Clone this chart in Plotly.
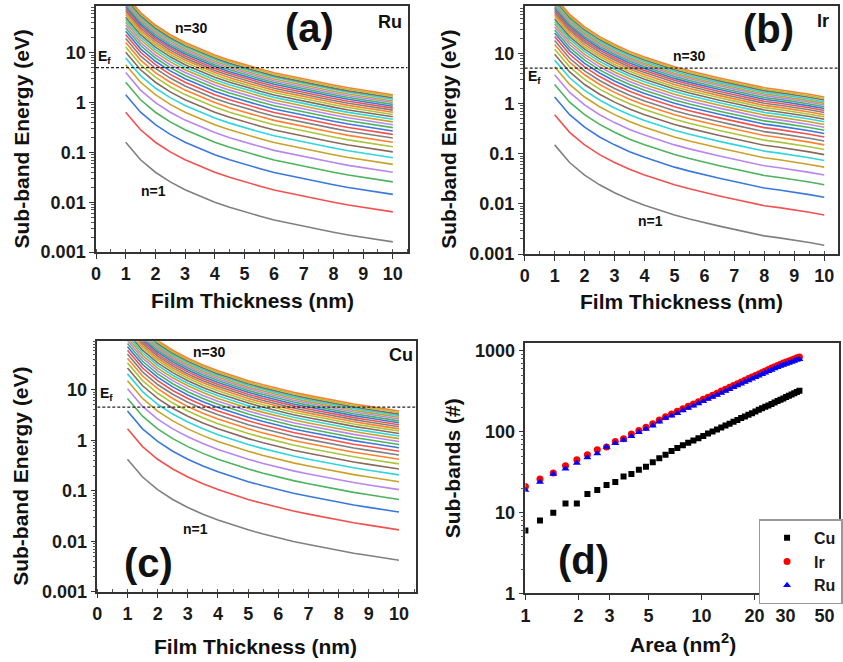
import plotly.graph_objects as go

# ---------------- data ----------------
thickness_nm = [1, 1.5, 2, 2.5, 3, 3.5, 4, 4.5, 5, 5.5, 6, 6.5, 7, 7.5, 8, 8.5, 9, 9.5, 10]

# lowest sub-band (n=1) energy vs film thickness
ru_n1 = [0.16, 0.0711, 0.04, 0.0256, 0.0178, 0.0131, 0.01, 0.0079, 0.0064, 0.0053,
         0.0044, 0.0038, 0.0033, 0.0028, 0.0025, 0.0022, 0.002, 0.0018, 0.0016]
ir_n1 = [0.15, 0.0667, 0.0375, 0.024, 0.0167, 0.0122, 0.0094, 0.0074, 0.006, 0.005,
         0.0042, 0.0036, 0.0031, 0.0027, 0.0023, 0.0021, 0.0019, 0.0017, 0.0015]
cu_n1 = [0.42, 0.187, 0.105, 0.0672, 0.0467, 0.0343, 0.0263, 0.0207, 0.0168, 0.0139,
         0.0117, 0.0099, 0.0086, 0.0075, 0.0066, 0.0058, 0.0052, 0.0047, 0.0042]

# energy of sub-bands n=1..30 at 10 nm thickness (right end of each line)
ru_at_10nm = [0.0016, 0.0064, 0.0144, 0.0256, 0.04, 0.0576, 0.0784, 0.1024, 0.13, 0.16,
              0.194, 0.23, 0.27, 0.314, 0.36, 0.41, 0.462, 0.518, 0.578, 0.64,
              0.706, 0.774, 0.846, 0.922, 1.0, 1.08, 1.17, 1.25, 1.35, 1.44]
ir_at_10nm = [0.0015, 0.006, 0.0135, 0.024, 0.0375, 0.054, 0.0735, 0.096, 0.1215, 0.15,
              0.18, 0.216, 0.254, 0.294, 0.338, 0.384, 0.434, 0.486, 0.542, 0.6,
              0.662, 0.726, 0.794, 0.864, 0.94, 1.01, 1.09, 1.18, 1.26, 1.35]
cu_at_10nm = [0.0042, 0.0168, 0.0378, 0.0672, 0.105, 0.151, 0.206, 0.269, 0.34, 0.42,
              0.508, 0.605, 0.71, 0.823, 0.945, 1.075, 1.21, 1.36, 1.52, 1.68,
              1.85, 2.03, 2.22, 2.42, 2.63, 2.84, 3.06, 3.29, 3.53, 3.78]

ef_ru = 5.05
ef_ir = 5.08
ef_cu = 4.52

area_nm2 = [1, 1.21, 1.44, 1.69, 1.96, 2.25, 2.56, 2.89, 3.24, 3.61, 4, 4.41, 4.84, 5.29,
            5.76, 6.25, 6.76, 7.29, 7.84, 8.41, 9, 9.61, 10.24, 10.89, 11.56, 12.25, 12.96,
            13.69, 14.44, 15.21, 16, 16.81, 17.64, 18.49, 19.36, 20.25, 21.16, 22.09, 23.04,
            24.01, 25, 26.01, 27.04, 28.09, 29.16, 30.25, 31.36, 32.49, 33.64, 34.81, 36]
cu_bands = [6, 8, 10, 13, 13, 17, 19, 22, 24, 28, 30, 34, 37, 42, 47, 52, 58, 63, 68, 73,
            78, 83, 89, 95, 101, 107, 113, 120, 126, 133, 140, 148, 155, 163, 170, 178,
            187, 195, 204, 212, 221, 230, 240, 249, 259, 269, 279, 289, 300, 310, 321]
ir_bands = [21, 26, 31, 38, 45, 52, 60, 65, 76, 82, 94, 104, 114, 126, 140, 154, 166, 179,
            193, 207, 221, 236, 252, 268, 284, 301, 319, 337, 355, 374, 394, 413, 434, 455,
            476, 498, 520, 543, 567, 590, 615, 638, 662, 686, 708, 730, 752, 775, 798, 822, 845]
ru_bands = [19, 24, 30, 35, 41, 48, 54, 65, 72, 79, 88, 99, 108, 119, 133, 148, 158, 170,
            183, 197, 210, 224, 239, 254, 270, 286, 303, 320, 337, 355, 374, 392, 412, 432,
            452, 473, 494, 516, 538, 560, 583, 605, 627, 650, 671, 692, 712, 733, 753, 772, 790]

energy_ticks = [0.001, 0.01, 0.1, 1, 10]
energy_ticktext = ["0.001", "0.01", "0.1", "1", "10"]
thick_ticks = [0, 1, 2, 3, 4, 5, 6, 7, 8, 9, 10]
band_ticks = [1, 10, 100, 1000]
area_ticks = [1, 2, 3, 5, 10, 20, 30, 50]

palette = ["#808080", "#f2514f", "#3b78dc", "#4db35c", "#b986ec", "#c9a227",
           "#2fd6dc", "#8a6a5e", "#a8c63c", "#ff8030"]

# ---------------- figure ----------------
W, H = 843, 662
FONT = "Liberation Sans, Arial, sans-serif"
INK = "#1a1a1a"
fig = go.Figure()


def px_x(p):
    return p / W


def px_y(p):
    return 1 - p / H


panels = [
    ("x", "y", thickness_nm, ru_n1, ru_at_10nm, ef_ru, 10.5),
    ("x2", "y2", thickness_nm, ir_n1, ir_at_10nm, ef_ir, 10.45),
    ("x3", "y3", thickness_nm, cu_n1, cu_at_10nm, ef_cu, 10.55),
]
for xa, ya, t, n1, ends, ef, xmax in panels:
    for i, e10 in enumerate(ends):
        yv = [e10 * v / n1[-1] for v in n1]
        fig.add_trace(go.Scatter(x=t, y=yv, mode="lines", xaxis=xa, yaxis=ya,
                                 line=dict(color=palette[i % len(palette)], width=1.6),
                                 showlegend=False, hoverinfo="skip"))
    fig.add_trace(go.Scatter(x=[0, xmax], y=[ef, ef], mode="lines", xaxis=xa, yaxis=ya,
                             line=dict(color="#222", width=1.3, dash="3px,2px"),
                             showlegend=False, hoverinfo="skip"))

fig.add_trace(go.Scatter(x=area_nm2, y=cu_bands, mode="markers", name="Cu", xaxis="x4", yaxis="y4",
                         marker=dict(symbol="square", size=6, color="#000000")))
fig.add_trace(go.Scatter(x=area_nm2, y=ir_bands, mode="markers", name="Ir", xaxis="x4", yaxis="y4",
                         marker=dict(symbol="circle", size=7, color="#ff0000")))
fig.add_trace(go.Scatter(x=area_nm2, y=ru_bands, mode="markers", name="Ru", xaxis="x4", yaxis="y4",
                         marker=dict(symbol="triangle-up", size=7, color="#0000ff")))

tickfont = dict(family=FONT, size=18, color=INK, weight="bold")
axcommon = dict(showline=True, linecolor="#333", linewidth=1.5, mirror=True, showgrid=False,
                zeroline=False, ticks="outside", ticklen=5, tickwidth=1.3, tickcolor="#333",
                tickfont=tickfont)

minor_log = [m * 10 ** d for d in range(-3, 3) for m in range(2, 10)]


def energy_y(domain, top):
    return dict(axcommon, type="log", domain=domain, range=[-3, top], tickvals=energy_ticks,
                ticktext=energy_ticktext,
                minor=dict(tickmode="array", tickvals=minor_log, ticks="outside", ticklen=3,
                           tickcolor="#555"))


def thick_x(domain, xmax):
    return dict(axcommon, domain=domain, range=[0, xmax], tickvals=thick_ticks,
                minor=dict(dtick=0.5, ticks="inside", ticklen=3, tickcolor="#555"))


fig.update_layout(
    width=W, height=H, margin=dict(l=0, r=0, t=0, b=0),
    paper_bgcolor="white", plot_bgcolor="white",
    font=dict(family=FONT, color=INK),
    xaxis=dict(thick_x([px_x(92), px_x(407)], 10.5), anchor="y"),
    yaxis=dict(energy_y([px_y(255.3), px_y(5)], 1.94), anchor="x"),
    xaxis2=dict(thick_x([px_x(525.3), px_x(841.7)], 10.45), anchor="y2"),
    yaxis2=dict(energy_y([px_y(257.3), px_y(5)], 1.947), anchor="x2"),
    xaxis3=dict(thick_x([px_x(93.3), px_x(415)], 10.55), anchor="y3"),
    yaxis3=dict(energy_y([px_y(600.7), px_y(346)], 1.96), anchor="x3"),
    xaxis4=dict(axcommon, type="log", domain=[px_x(526), 1.0], range=[0, 1.781], anchor="y4",
                tickvals=area_ticks, ticktext=[str(v) for v in area_ticks]),
    yaxis4=dict(axcommon, type="log", domain=[px_y(602.5), px_y(347.5)], range=[0, 3.102], anchor="x4",
                tickvals=band_ticks, ticktext=[str(v) for v in band_ticks],
                minor=dict(tickmode="array", tickvals=minor_log, ticks="outside", ticklen=3,
                           tickcolor="#555")),
    showlegend=True,
    legend=dict(x=px_x(761.7), y=px_y(527), xanchor="left", yanchor="top",
                bgcolor="white", bordercolor="#999", borderwidth=1.5,
                font=dict(family=FONT, size=16, color=INK, weight="bold"),
                tracegroupgap=0, itemwidth=44),
)


def label(x, y, text, size, angle=0, yanchor="middle", yshift=0):
    fig.add_annotation(x=px_x(x), y=px_y(y), xref="paper", yref="paper", text=text, showarrow=False,
                       font=dict(family=FONT, size=size, color="#111", weight="bold"),
                       xanchor="center", yanchor=yanchor, textangle=angle, borderpad=0,
                       yshift=yshift)


# axis titles
label(17, 140, "Sub-band Energy (eV)", 21, -90)
label(250, 305, "Film Thickness (nm)", 21)
label(448, 141, "Sub-band Energy (eV)", 21, -90)
label(684, 306, "Film Thickness (nm)", 21)
label(16, 483, "Sub-band Energy (eV)", 21, -90)
label(253, 662, "Film Thickness (nm)", 21, yanchor="bottom", yshift=-7)
label(452, 475, "Sub-bands (#)", 21, -90)
label(685, 662, "Area (nm<sup>2</sup>)", 21, yanchor="bottom", yshift=-5)

# panel (a)
label(308, 27, "(a)", 40)
label(389, 21, "Ru", 18)
label(189, 27, "n=30", 14)
label(150, 193, "n=1", 14)
label(101, 57, "E<sub>f</sub>", 14)
# panel (b)
label(772, 28, "(b)", 40)
label(827, 20, "Ir", 18)
label(692, 56, "n=30", 14)
label(652, 224, "n=1", 14)
label(535, 77, "E<sub>f</sub>", 14)
# panel (c)
label(145, 572, "(c)", 40)
label(400, 360, "Cu", 18)
label(207, 357, "n=30", 14)
label(193, 537, "n=1", 14)
label(103, 400, "E<sub>f</sub>", 14)
# panel (d)
label(585, 568, "(d)", 40)

fig.write_html("out.html")
